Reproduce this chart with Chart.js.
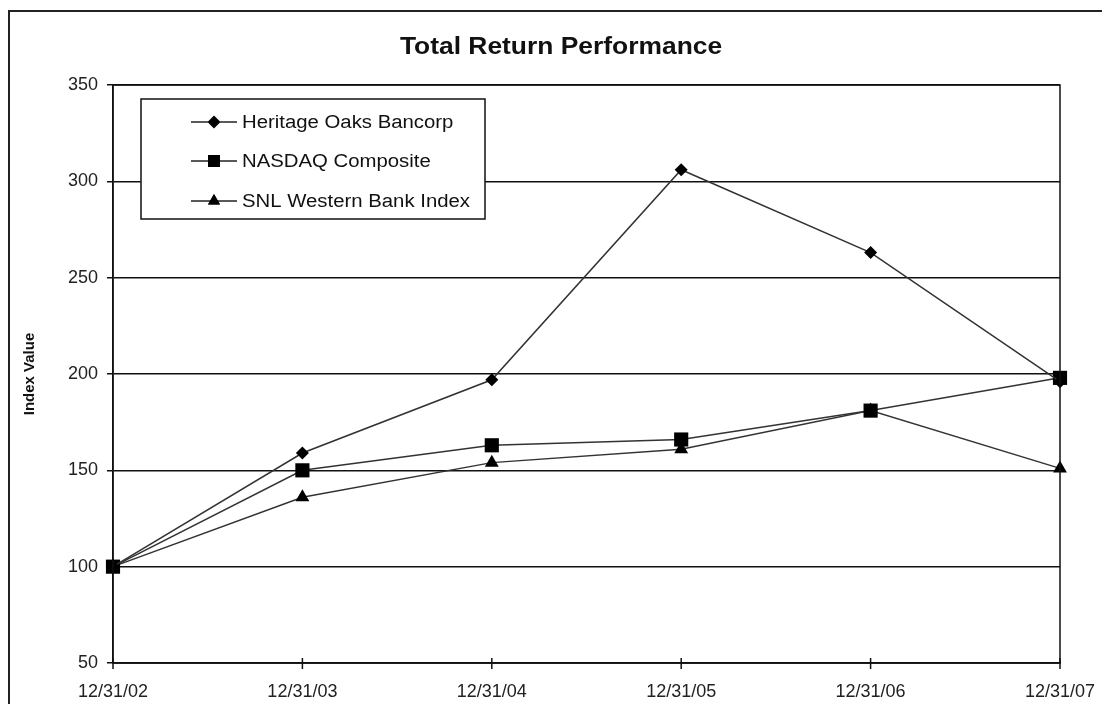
<!DOCTYPE html>
<html>
<head>
<meta charset="utf-8">
<script src="https://cdn.jsdelivr.net/npm/chart.js@4.4.1/dist/chart.umd.min.js"></script>
<style>
  body { margin: 0; background: #fff; }
  #wrap { width: 1102px; height: 704px; position: relative; }
</style>
</head>
<body>
<div id="wrap"><canvas id="canvas" width="1102" height="704"></canvas></div>
<script>
// data
const dates = ["12/31/02", "12/31/03", "12/31/04", "12/31/05", "12/31/06", "12/31/07"];
const heritageOaks = [100, 159, 197, 306, 263, 196];
const nasdaqComposite = [100, 150, 163, 166, 181, 198];
const snlWestern = [100, 136, 154, 161, 181, 151];
const seriesNames = ["Heritage Oaks Bancorp", "NASDAQ Composite", "SNL Western Bank Index"];

const FONT = "'Liberation Sans', Arial, sans-serif";

// text in the scanned original is a bit wider than Arial, so stretch it
function wideText(ctx, text, x, y, stretch) {
  ctx.save();
  ctx.translate(x, y);
  ctx.scale(stretch, 1);
  ctx.fillText(text, 0, 0);
  ctx.restore();
}

// frame, title, plot box and the boxed legend inside the plot
const framePlugin = {
  id: 'frame',
  afterDraw: (chart) => {
    const {ctx, chartArea} = chart;
    ctx.save();
    ctx.strokeStyle = '#222';
    ctx.lineWidth = 2;
    ctx.beginPath();
    ctx.moveTo(9, 704);
    ctx.lineTo(9, 11);
    ctx.lineTo(1102, 11);
    ctx.stroke();

    ctx.fillStyle = '#111';
    ctx.font = 'bold 24px ' + FONT;
    ctx.textAlign = 'center';
    ctx.textBaseline = 'middle';
    wideText(ctx, 'Total Return Performance', 561, 47, 1.1);

    ctx.lineWidth = 1.5;
    ctx.strokeStyle = '#111';
    ctx.strokeRect(chartArea.left, chartArea.top, chartArea.right - chartArea.left, chartArea.bottom - chartArea.top);

    // x ticks crossing the axis
    const xs = chart.scales.x;
    dates.forEach((d, i) => {
      const px = xs.getPixelForValue(i);
      ctx.beginPath();
      ctx.moveTo(px, chartArea.bottom - 5);
      ctx.lineTo(px, chartArea.bottom + 6);
      ctx.stroke();
    });

    // legend box
    ctx.fillStyle = '#fff';
    ctx.fillRect(141, 99, 344, 120);
    ctx.strokeRect(141, 99, 344, 120);
    const rows = [122, 161, 201];
    chart.data.datasets.forEach((ds, i) => {
      const y = rows[i];
      ctx.strokeStyle = '#222';
      ctx.lineWidth = 1.5;
      ctx.beginPath();
      ctx.moveTo(191, y);
      ctx.lineTo(237, y);
      ctx.stroke();
      Chart.helpers.drawPoint(ctx, {pointStyle: ds.pointStyle, radius: ds.legendRadius, rotation: 0, borderWidth: 0}, 214, y);
      ctx.fillStyle = '#000';
      ctx.fill();
      ctx.fillStyle = '#111';
      ctx.font = '18px ' + FONT;
      ctx.textAlign = 'left';
      ctx.textBaseline = 'middle';
      wideText(ctx, ds.label, 242, y + 1, 1.13);
    });
    ctx.restore();
  }
};

function lineSet(label, values, style, radius, legendRadius) {
  return {
    label: label,
    data: values,
    borderColor: '#333',
    borderWidth: 1.5,
    pointStyle: style,
    pointRadius: radius,
    pointHoverRadius: radius,
    pointBackgroundColor: '#000',
    pointBorderColor: '#000',
    pointBorderWidth: 0,
    legendRadius: legendRadius,
    tension: 0
  };
}

new Chart(document.getElementById('canvas').getContext('2d'), {
  type: 'line',
  data: {
    labels: dates,
    datasets: [
      lineSet(seriesNames[0], heritageOaks, 'rectRot', 6.5, 6.5),
      lineSet(seriesNames[1], nasdaqComposite, 'rect', 10, 8.5),
      lineSet(seriesNames[2], snlWestern, 'triangle', 8, 7)
    ]
  },
  options: {
    responsive: false,
    animation: false,
    devicePixelRatio: 1,
    layout: { padding: { top: 85, right: 42, bottom: 0, left: 0 } },
    plugins: {
      legend: { display: false },
      title: { display: false },
      tooltip: { enabled: false }
    },
    scales: {
      x: {
        afterFit: (scale) => {
          scale.height = 41;
          scale.paddingLeft = 0;
          scale.paddingRight = 0;
        },
        grid: { display: false },
        border: { display: true, color: '#111', width: 1.5 },
        ticks: { color: '#222', font: { family: FONT, size: 18 }, maxRotation: 0, padding: 10 }
      },
      y: {
        min: 50,
        max: 350,
        afterFit: (scale) => { scale.width = 113; },
        title: {
          display: true,
          text: 'Index Value',
          color: '#111',
          font: { family: FONT, size: 15, weight: 'bold' },
          padding: { top: 21, bottom: 0 }
        },
        grid: { color: '#111', lineWidth: 1.5, tickLength: 6, tickColor: '#111' },
        border: { display: true, color: '#111', width: 1.5 },
        ticks: { stepSize: 50, color: '#222', font: { family: FONT, size: 18 }, padding: 9 }
      }
    }
  },
  plugins: [framePlugin]
});
</script>
</body>
</html>
